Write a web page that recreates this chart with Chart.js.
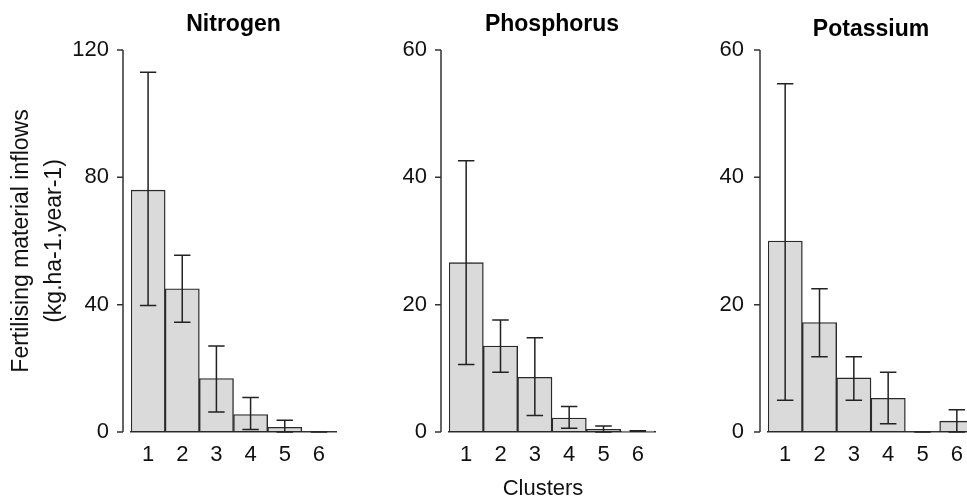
<!DOCTYPE html>
<html>
<head>
<meta charset="utf-8">
<script src="https://cdn.jsdelivr.net/npm/chart.js@4.4.1/dist/chart.umd.min.js"></script>
<style>
    html, body { margin: 0; padding: 0; background: #fff; overflow: hidden; width: 967px; height: 497px; }
    canvas { position: absolute; top: 0; }
    #xTitle { position: absolute; left: 543px; top: 488px; transform: translate(-50%, -50%);
              font: 22px "Liberation Sans", Arial, sans-serif; color: #111; line-height: 1; white-space: nowrap; }
</style>
</head>
<body>
<canvas id="nitrogen" width="340" height="497" style="left:0px"></canvas>
<canvas id="phosphorus" width="320" height="497" style="left:340px"></canvas>
<canvas id="potassium" width="320" height="497" style="left:660px"></canvas>
<div id="xTitle">Clusters</div>
<script>
// data
const clusters = ['1', '2', '3', '4', '5', '6'];

const nitrogenMean = [76, 45, 16.8, 5.5, 1.5, 0];
const nitrogenHigh = [113, 55.5, 27, 10.8, 3.7, 0];
const nitrogenLow = [39.7, 34.5, 6.3, 0.8, 0, 0];

const phosphorusMean = [26.6, 13.5, 8.6, 2.2, 0.4, 0.15];
const phosphorusHigh = [42.6, 17.6, 14.8, 4.0, 0.95, 0.2];
const phosphorusLow = [10.6, 9.4, 2.6, 0.6, 0, 0.1];

const potassiumMean = [30, 17.2, 8.5, 5.3, 0, 1.7];
const potassiumHigh = [54.7, 22.5, 11.8, 9.4, 0, 3.5];
const potassiumLow = [5.0, 11.8, 5.0, 1.3, 0, 0];

const nitrogenTicks = [0, 40, 80, 120];
const smallTicks = [0, 20, 40, 60];

const FONT = '"Liberation Sans", Arial, sans-serif';
const INK = '#111';

// error bars + R-style detached y axis
const extrasPlugin = {
    id: 'extras',
    afterDatasetsDraw(chart, args, opts) {
        const ctx = chart.ctx;
        const y = chart.scales.y;
        const meta = chart.getDatasetMeta(0);
        ctx.save();
        ctx.strokeStyle = '#222';
        ctx.lineWidth = 1.5;
        meta.data.forEach((bar, i) => {
            const half = bar.width * 0.24;
            const yh = y.getPixelForValue(opts.high[i]);
            const yl = y.getPixelForValue(opts.low[i]);
            ctx.beginPath();
            ctx.moveTo(bar.x, yh); ctx.lineTo(bar.x, yl);
            ctx.moveTo(bar.x - half, yh); ctx.lineTo(bar.x + half, yh);
            ctx.moveTo(bar.x - half, yl); ctx.lineTo(bar.x + half, yl);
            ctx.stroke();
        });
        // y axis line, set off from the bars
        const ax = chart.chartArea.left - 8;
        ctx.strokeStyle = '#333';
        ctx.beginPath();
        ctx.moveTo(ax, y.getPixelForValue(y.min));
        ctx.lineTo(ax, y.getPixelForValue(y.max));
        y.ticks.forEach(t => {
            const py = y.getPixelForValue(t.value);
            ctx.moveTo(ax, py); ctx.lineTo(ax - 6, py);
        });
        ctx.stroke();
        ctx.restore();
    }
};

function makePanel(id, title, mean, high, low, ticks, o) {
    new Chart(document.getElementById(id), {
        type: 'bar',
        data: {
            labels: clusters,
            datasets: [{
                data: mean,
                backgroundColor: '#dadada',
                borderColor: '#2a2a2a',
                borderWidth: 1.4,
                borderSkipped: false,
                barPercentage: 1,
                categoryPercentage: 1
            }]
        },
        plugins: [extrasPlugin],
        options: {
            responsive: false,
            animation: false,
            devicePixelRatio: 1,
            layout: { padding: { left: 0, right: o.padRight, top: 0, bottom: 0 } },
            plugins: {
                legend: { display: false },
                tooltip: { enabled: false },
                title: {
                    display: true,
                    text: title,
                    fullSize: false,
                    color: '#000',
                    font: { family: FONT, size: 23, weight: 'bold', lineHeight: 1.2 },
                    padding: { top: o.titleTop, bottom: 50 - o.titleTop - 27.6 }
                },
                extras: { high: high, low: low }
            },
            scales: {
                x: {
                    grid: { display: false, drawTicks: false },
                    border: { display: true, color: '#333', width: 1.5 },
                    ticks: { color: INK, font: { family: FONT, size: 22 }, padding: 10 },
                    afterFit(s) { s.height = 65; }
                },
                y: {
                    min: 0,
                    max: ticks[ticks.length - 1],
                    afterBuildTicks(s) { s.ticks = ticks.map(v => ({ value: v })); },
                    grid: { display: false, drawTicks: false },
                    border: { display: false },
                    ticks: { color: INK, font: { family: FONT, size: 22 }, padding: o.tickPad },
                    title: o.yTitle ? {
                        display: true,
                        text: o.yTitle,
                        color: INK,
                        font: { family: FONT, size: 23, lineHeight: 1.4 },
                        padding: { top: 6, bottom: 0 }
                    } : { display: false },
                    afterFit(s) { s.width = o.yWidth; }
                }
            }
        }
    });
}

makePanel('nitrogen', 'Nitrogen', nitrogenMean, nitrogenHigh, nitrogenLow, nitrogenTicks,
    { yWidth: 131, padRight: 4, tickPad: 22, titleTop: 11,
      yTitle: ['Fertilising material inflows', '(kg.ha-1.year-1)'] });
makePanel('phosphorus', 'Phosphorus', phosphorusMean, phosphorusHigh, phosphorusLow, smallTicks,
    { yWidth: 109, padRight: 5, tickPad: 22, titleTop: 11 });
makePanel('potassium', 'Potassium', potassiumMean, potassiumHigh, potassiumLow, smallTicks,
    { yWidth: 108, padRight: 6, tickPad: 24, titleTop: 16 });
</script>
</body>
</html>
